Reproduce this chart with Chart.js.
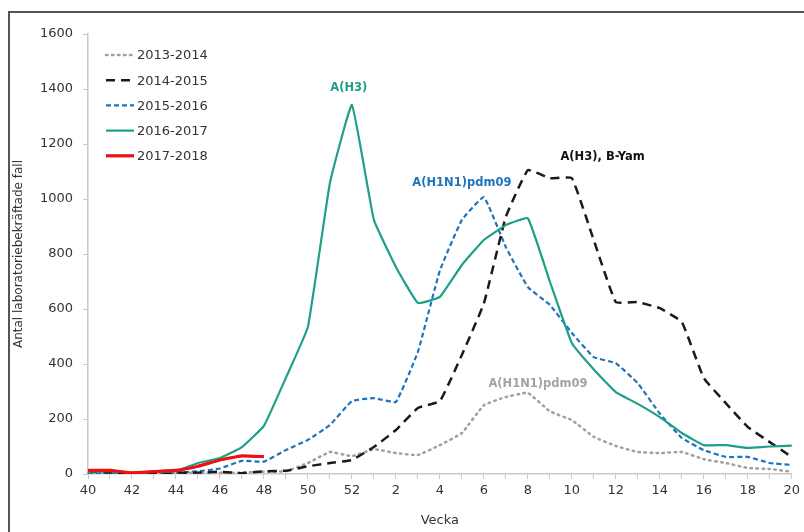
<!DOCTYPE html>
<html lang="sv">
<head>
    <meta charset="UTF-8">
    <title>Laboratoriebekräftade influensafall per vecka</title>
    <script src="https://cdn.jsdelivr.net/npm/chart.js"></script>
    <style>
        body {
            margin: 0;
            background: white;
            overflow: hidden;
        }
        .wrap {
            position: relative;
            width: 804px;
            height: 532px;
        }
        .frame {
            position: absolute;
            left: 8px;
            top: 11px;
            width: 900px;
            height: 700px;
            border: 2px solid #555;
            pointer-events: none;
        }
    </style>
</head>
<body>
    <div class="wrap">
        <canvas id="chart" width="804" height="532"></canvas>
        <div class="frame"></div>
    </div>

    <script>
        // Veckor (säsong v40 - v20)
        const weeks = ['40','41','42','43','44','45','46','47','48','49','50','51','52',
                       '1','2','3','4','5','6','7','8','9','10','11','12','13','14','15','16','17','18','19','20'];

        const s1314 = [5,3,2,2,3,5,5,5,8,10,40,80,65,
                       90,76,69,105,149,250,280,295,228,196,135,102,80,76,80,54,40,22,18,8];
        const s1415 = [10,5,2,3,5,5,8,3,10,12,28,40,51,
                       98,160,240,265,433,620,935,1105,1076,1076,850,625,625,603,553,349,258,171,116,62];
        const s1516 = [2,2,2,3,5,10,20,48,45,87,124,178,265,
                       276,262,444,740,924,1007,825,680,615,513,425,403,330,220,131,87,62,62,40,33];
        const s1617 = [8,10,5,8,10,40,58,98,175,350,535,1058,1342,
                       924,753,622,644,760,851,905,930,700,476,380,298,255,207,149,105,105,95,100,103];
        const s1718 = [13,13,4,9,13,28,51,66,63];

        const yTicks = { min: 0, max: 1600, step: 200 };

        // Etiketter i diagrammet: text, position (veckoindex), värde, färg
        const noteText  = ['A(H3)', 'A(H1N1)pdm09', 'A(H3), B-Yam', 'A(H1N1)pdm09'];
        const noteIndex = [11.86, 17.0, 23.4, 20.46];
        const noteValue = [1404, 1058, 1153, 327];
        const noteColor = ['#1f9e89', '#1f72bd', '#111111', '#a3a3a3'];

        const FONT = '"DejaVu Sans", Verdana, sans-serif';

        const datasets = [
            { label: '2013-2014', data: s1314, borderColor: '#a0a0a0', borderWidth: 2.5, borderDash: [1.5, 4.5], borderCapStyle: 'round', order: 4 },
            { label: '2014-2015', data: s1415, borderColor: '#1a1a1a', borderWidth: 2.5, borderDash: [9, 6], order: 2 },
            { label: '2015-2016', data: s1516, borderColor: '#1f72bd', borderWidth: 2.2, borderDash: [5, 3], order: 3 },
            { label: '2016-2017', data: s1617, borderColor: '#1f9e89', borderWidth: 2.2, order: 1 },
            { label: '2017-2018', data: s1718, borderColor: '#f01010', borderWidth: 3.2, order: 0 }
        ];

        // Etiketter vid topparna
        const notesPlugin = {
            id: 'notes',
            afterDatasetsDraw(chart) {
                const ctx = chart.ctx;
                const xs = chart.scales.x, ys = chart.scales.y;
                ctx.save();
                ctx.font = 'bold 11.5px ' + FONT;
                ctx.textAlign = 'center';
                ctx.textBaseline = 'middle';
                noteText.forEach((t, i) => {
                    ctx.fillStyle = noteColor[i];
                    ctx.fillText(t, xs.getPixelForValue(noteIndex[i]), ys.getPixelForValue(noteValue[i]));
                });
                ctx.restore();
            }
        };

        // Legend inne i ritytan, uppe till vänster
        const legendPlugin = {
            id: 'innerLegend',
            afterDraw(chart) {
                const ctx = chart.ctx;
                ctx.save();
                ctx.font = '13px ' + FONT;
                ctx.textBaseline = 'middle';
                ctx.textAlign = 'left';
                datasets.forEach((ds, i) => {
                    const y = 55 + i * 25.2;
                    ctx.strokeStyle = ds.borderColor;
                    ctx.lineWidth = ds.borderWidth;
                    ctx.setLineDash(ds.borderDash || []);
                    ctx.lineCap = ds.borderCapStyle || 'butt';
                    ctx.beginPath();
                    ctx.moveTo(106, y);
                    ctx.lineTo(134, y);
                    ctx.stroke();
                    ctx.fillStyle = '#333';
                    ctx.fillText(ds.label, 137, y + 1);
                });
                ctx.restore();
            }
        };

        new Chart(document.getElementById('chart'), {
            type: 'line',
            data: {
                labels: weeks,
                datasets: datasets.map(d => ({ ...d, pointRadius: 0, fill: false, tension: 0.1 }))
            },
            options: {
                responsive: false,
                animation: false,
                layout: { padding: { left: 0, right: 9, top: 34, bottom: 0 } },
                plugins: {
                    legend: { display: false },
                    tooltip: { enabled: false }
                },
                scales: {
                    x: {
                        type: 'category',
                        offset: false,
                        border: { color: '#c8c8c8', width: 1.5 },
                        grid: { drawOnChartArea: false, drawTicks: true, tickLength: 5, color: '#c8c8c8' },
                        ticks: {
                            autoSkip: false,
                            maxRotation: 0,
                            padding: 4,
                            color: '#333',
                            font: { family: FONT, size: 13 },
                            callback: (v, i) => (i % 2 === 0 ? weeks[i] : '')
                        },
                        title: {
                            display: true,
                            text: 'Vecka',
                            color: '#333',
                            font: { family: FONT, size: 13 },
                            padding: { top: 4, bottom: 4 }
                        },
                        afterFit(scale) { scale.height = 58; }
                    },
                    y: {
                        min: yTicks.min,
                        max: yTicks.max,
                        border: { color: '#c8c8c8', width: 1.5 },
                        grid: { drawOnChartArea: false, drawTicks: true, tickLength: 5, color: '#c8c8c8' },
                        ticks: {
                            stepSize: yTicks.step,
                            padding: 10,
                            color: '#333',
                            font: { family: FONT, size: 13 },
                            callback: v => String(v)
                        },
                        title: {
                            display: true,
                            text: 'Antal laboratoriebekräftade fall',
                            color: '#333',
                            font: { family: FONT, size: 12 },
                            padding: { top: 12, bottom: 0 }
                        },
                        afterFit(scale) { scale.width = 88; }
                    }
                }
            },
            plugins: [notesPlugin, legendPlugin]
        });
    </script>
</body>
</html>
